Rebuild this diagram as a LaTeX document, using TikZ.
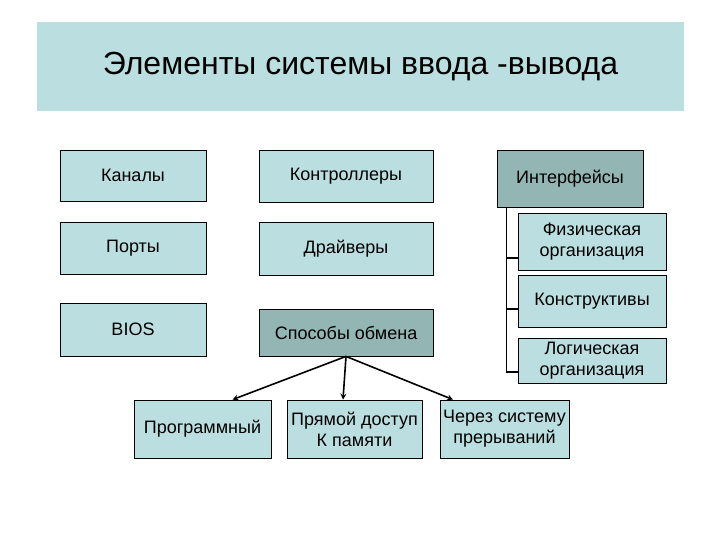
\documentclass[tikz,border=0pt]{standalone}
\usepackage{fontspec}
\setmainfont{Liberation Sans}
\usepackage{xcolor}
\usepackage{tikz}
\definecolor{paleblue}{RGB}{187,223,224}
\definecolor{greyteal}{RGB}{147,181,179}

\begin{document}
\begin{tikzpicture}
                    [x=1pt, y=-1pt, >=stealth,
                     every node/.style={font=\fontsize{18}{21}\selectfont, align=center, inner sep=0pt},
                     box/.style={draw, fill=paleblue, line width=0.8pt},
                     darkbox/.style={draw, fill=greyteal, line width=0.8pt}]
                    \useasboundingbox (0,0) rectangle (720,540);
                    \node[fill=paleblue, minimum width=647pt, minimum height=89pt,
                          font=\fontsize{32}{36}\selectfont] (title) at (360.5,66.5) {Элементы системы ввода -вывода};
                    \node[box, minimum width=146pt, minimum height=51pt] (kanaly) at (133,175.5) {Каналы};
                    \node[box, minimum width=174pt, minimum height=52pt] (kontr) at (346,176) {Контроллеры};
                    \node[darkbox, minimum width=146pt, minimum height=57pt] (intf) at (570,178.5) {Интерфейсы};
                    \node[box, minimum width=146pt, minimum height=52pt] (porty) at (133,248) {Порты};
                    \node[box, minimum width=174pt, minimum height=53pt] (drv) at (346,248.5) {Драйверы};
                    \node[box, minimum width=148pt, minimum height=57pt] (fiz) at (592,241.5) {Физическая\\организация};
                    \node[box, minimum width=148pt, minimum height=52pt] (konstr) at (592,301) {Конструктивы};
                    \node[box, minimum width=148pt, minimum height=45pt] (logic) at (592,360.5) {Логическая\\организация};
                    \node[box, minimum width=146pt, minimum height=53pt] (bios) at (133,329.5) {BIOS};
                    \node[darkbox, minimum width=174pt, minimum height=47pt] (sposob) at (346,332.5) {Способы обмена};
                    \node[box, minimum width=137pt, minimum height=58pt] (prog) at (202.5,429) {Программный};
                    \node[box, minimum width=135pt, minimum height=58pt] (pryam) at (354.5,429) {Прямой доступ\\К памяти};
                    \node[box, minimum width=129pt, minimum height=58pt] (cherez) at (504.5,429) {Через систему\\прерываний};
                    \coordinate (trunk) at ([xshift=10pt]intf.south west);
                    \draw[line width=1.6pt] (trunk) |- ([yshift=-11.5pt]logic.west);
                    \draw[line width=1.6pt] ([yshift=-16.5pt]fiz.west) -- +(-11,0);
                    \draw[line width=1.6pt] ([yshift=-8pt]konstr.west) -- +(-11,0);
                    \draw[->, line width=1.6pt] (sposob.south) -- ([xshift=30pt]prog.north);
                    \draw[->, line width=1.6pt] (sposob.south) -- ([xshift=-11.5pt]pryam.north);
                    \draw[->, line width=1.6pt] (sposob.south) -- ([xshift=-51.5pt]cherez.north);
                \end{tikzpicture}
\end{document}
